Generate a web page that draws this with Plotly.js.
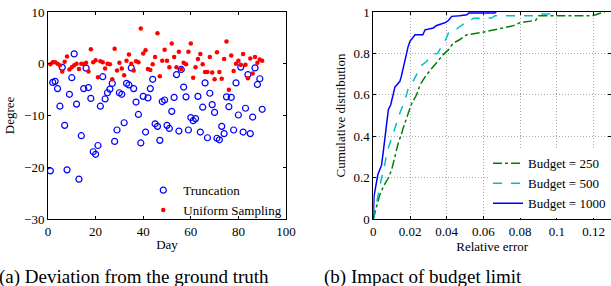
<!DOCTYPE html>
<html><head><meta charset="utf-8">
<script src="https://cdn.plot.ly/plotly-3.0.1.min.js"></script>
<style>html,body{margin:0;padding:0;overflow:hidden;background:#fff}#chart{width:611px;height:286px}</style>
</head><body><div id="chart"></div>
<script>
const days = [1,2,3,4,5,6,7,8,9,10,11,12,13,14,15,16,17,18,19,20,21,22,23,24,25,26,27,28,29,30,
  31,32,33,34,35,36,37,38,39,40,41,42,43,44,45,46,47,48,49,50,51,52,53,54,55,56,57,58,59,60,
  61,62,63,64,65,66,67,68,69,70,71,72,73,74,75,76,77,78,79,80,81,82,83,84,85,86,87,88,89,90];
const truncation = [-20.7,-3.6,-3.4,-4.8,-8.2,-0.7,-11.9,-20.5,-5.9,-2.7,
  1.9,-7.8,-22.3,-13.9,-4.8,-0.85,-4.6,-6.7,-17.0,-17.5,
  -15.8,-8.2,-2.5,-6.8,-5.6,-4.9,-3.8,-15.0,-12.8,-5.6,
  -5.9,-11.4,-3.8,-4.1,-0.8,-4.8,-7.4,-9.8,-15.3,-6.3,
  -13.2,-6.6,-4.8,-3.0,-11.6,-12.1,-14.8,-7.3,-7.0,-11.9,
  -12.5,-9.2,-6.5,-2.1,-13.0,-1.1,-4.5,-6.4,-12.8,-10.4,
  -11.0,-10.6,-6.3,-13.2,-8.4,-3.7,-14.3,-5.7,-7.9,-9.4,
  -14.4,-14.7,-12.1,-13.5,-6.4,-8.3,-6.5,-12.8,-3.7,-9.9,
  -0.65,-13.2,-8.6,-2.1,-13.5,-10.3,-0.8,-4.0,-2.9,-8.8];
const uniformSampling = [-0.1,0.3,0.3,0.0,-0.3,-1.5,0.4,1.4,-1.1,-0.7,
  -0.3,0.0,-1.0,0.0,-0.1,0.2,-1.5,2.8,0.3,0.7,
  -2.6,0.5,0.3,-0.9,0.0,-0.1,-3.0,2.9,-1.3,0.2,
  -0.9,-2.2,0.6,1.8,0.0,-1.3,0.5,0.3,6.8,2.0,
  2.6,-1.0,-1.2,-0.1,1.3,5.9,-2.4,0.6,2.7,0.6,
  -0.7,3.9,1.3,-0.7,2.3,-1.0,0.2,-0.1,2.3,3.9,
  -2.7,-0.7,0.9,1.9,-0.1,-1.6,-1.6,1.3,-1.7,-3.0,
  2.2,-1.6,-2.9,0.9,4.3,-5.0,1.6,-1.4,0.0,0.6,
  -0.2,1.9,-0.2,-2.8,1.0,-1.9,1.3,0.2,0.8,0.6];

const err250 = [0,0.0018,0.0033,0.0055,0.0082,0.01,0.0118,0.0136,0.0155,0.0163,
  0.0191,0.021,0.0236,0.0255,0.029,0.0327,0.0354,0.0381,0.041,0.0436,
  0.047,0.051,0.0585,0.065,0.069,0.0765,0.0795,0.0885,0.09,0.1193,0.1248,0.126];
const cdf250 = [0,0.061,0.11,0.158,0.198,0.238,0.30,0.367,0.415,0.44,
  0.512,0.56,0.60,0.649,0.697,0.737,0.761,0.794,0.818,0.85,
  0.866,0.89,0.9,0.914,0.92,0.934,0.947,0.96,0.982,0.982,0.995,1];
const err500 = [0,0.001,0.0018,0.0027,0.0036,0.0045,0.0064,0.0073,0.0091,0.0109,
  0.0125,0.0145,0.0173,0.0191,0.021,0.0236,0.0255,0.029,0.0318,0.035,
  0.0373,0.039,0.0409,0.0445,0.046,0.049,0.051,0.0536,0.0545,0.0645,
  0.0663,0.0891,0.09,0.0999,0.1005];
const cdf500 = [0,0.045,0.09,0.133,0.166,0.198,0.27,0.319,0.367,0.415,
  0.46,0.512,0.576,0.633,0.655,0.697,0.737,0.761,0.794,0.80,
  0.834,0.858,0.898,0.906,0.923,0.94,0.96,0.963,0.97,0.971,
  0.982,0.982,0.99,0.99,1];
const err1000 = [0,0.0004,0.0015,0.0025,0.0035,0.0045,0.0055,0.0064,0.0073,0.0082,
  0.0095,0.0109,0.0118,0.0129,0.0145,0.0153,0.0163,0.0174,0.0182,0.019,
  0.02,0.0215,0.0227,0.027,0.0282,0.0327,0.0345,0.0373,0.0395,0.041,
  0.0427,0.047,0.051,0.052,0.066,0.067];
const cdf1000 = [0,0.11,0.166,0.215,0.238,0.26,0.33,0.40,0.46,0.528,
  0.552,0.60,0.638,0.649,0.665,0.69,0.729,0.778,0.818,0.834,
  0.858,0.874,0.89,0.89,0.914,0.923,0.935,0.943,0.95,0.96,
  0.979,0.982,0.987,0.995,0.995,1];

const leftXTicks = [0,20,40,60,80,100];
const leftYTicks = [-30,-20,-10,0,10];
const rightXTicks = [0,0.02,0.04,0.06,0.08,0.1,0.12];
const rightXTickText = ['0','0.02','0.04','0.06','0.08','0.1','0.12'];
const rightYTicks = [0,0.2,0.4,0.6,0.8,1];
const rightYTickText = ['0','0.2','0.4','0.6','0.8','1'];

const FONT = '"Liberation Serif", "DejaVu Serif", serif';

const traces = [
  {x: days, y: truncation, name: 'Truncation', type: 'scatter', mode: 'markers',
   marker: {symbol: 'circle-open', size: 6, color: '#0000ff', line: {width: 1.2, color: '#0000ff'}},
   xaxis: 'x', yaxis: 'y', legend: 'legend'},
  {x: days, y: uniformSampling, name: 'Uniform Sampling', type: 'scatter', mode: 'markers',
   marker: {symbol: 'circle', size: 4.5, color: '#ff0000'},
   xaxis: 'x', yaxis: 'y', legend: 'legend'},
  {x: err250, y: cdf250, name: 'Budget = 250', type: 'scatter', mode: 'lines',
   line: {color: '#008000', dash: 'dashdot', width: 1.5},
   xaxis: 'x2', yaxis: 'y2', legend: 'legend2'},
  {x: err500, y: cdf500, name: 'Budget = 500', type: 'scatter', mode: 'lines',
   line: {color: '#00bfbf', dash: 'dash', width: 1.5},
   xaxis: 'x2', yaxis: 'y2', legend: 'legend2'},
  {x: err1000, y: cdf1000, name: 'Budget = 1000', type: 'scatter', mode: 'lines',
   line: {color: '#0000ff', width: 1.5},
   xaxis: 'x2', yaxis: 'y2', legend: 'legend2'}
];

const axBase = {
  showline: true, linecolor: '#000', linewidth: 1, mirror: 'ticks',
  ticks: 'inside', ticklen: 3, tickcolor: '#000', tickwidth: 1,
  zeroline: false, showgrid: false,
  tickfont: {family: FONT, size: 13, color: '#000'}
};
const titleFont = {family: FONT, size: 13, color: '#000'};

const layout = {
  width: 611, height: 286,
  margin: {l: 48, r: 0, t: 12, b: 67},
  paper_bgcolor: '#fff', plot_bgcolor: '#fff',
  font: {family: FONT, size: 13, color: '#000'},
  xaxis: Object.assign({}, axBase, {domain: [0, 0.4227], range: [0, 100], tickvals: leftXTicks,
    title: {text: 'Day', font: titleFont, standoff: 2}}),
  yaxis: Object.assign({}, axBase, {domain: [0, 1], range: [-30, 10], tickvals: leftYTicks,
    title: {text: 'Degree', font: titleFont, standoff: 6}}),
  xaxis2: Object.assign({}, axBase, {domain: [0.5778, 1], range: [0, 0.1295], anchor: 'y2',
    tickvals: rightXTicks, ticktext: rightXTickText,
    showgrid: true, gridcolor: '#aaaaaa', griddash: '1px,2px', gridwidth: 1,
    title: {text: 'Relative error', font: titleFont, standoff: 2}}),
  yaxis2: Object.assign({}, axBase, {domain: [0, 1], range: [0, 1], anchor: 'x2',
    tickvals: rightYTicks, ticktext: rightYTickText,
    showgrid: true, gridcolor: '#aaaaaa', griddash: '1px,2px', gridwidth: 1,
    title: {text: 'Cumulative distribution', font: titleFont, standoff: 4}}),
  legend: {x: 0.425, y: -0.03, xanchor: 'right', yanchor: 'bottom', bgcolor: 'rgba(0,0,0,0)',
    borderwidth: 0, itemwidth: 30, font: {family: FONT, size: 13, color: '#000'}},
  legend2: {x: 1, y: 0.003, xanchor: 'right', yanchor: 'bottom', bgcolor: '#fff',
    borderwidth: 0, itemwidth: 30, font: {family: FONT, size: 13, color: '#000'}},
  showlegend: true,
  annotations: [
    {text: '(a) Deviation from the ground truth', xref: 'paper', yref: 'paper', x: 0.1535, y: -0.282,
     xanchor: 'center', yanchor: 'middle', showarrow: false, font: {family: FONT, size: 19, color: '#000'}},
    {text: '(b) Impact of budget limit', xref: 'paper', yref: 'paper', x: 0.6657, y: -0.282,
     xanchor: 'center', yanchor: 'middle', showarrow: false, font: {family: FONT, size: 19, color: '#000'}}
  ]
};

Plotly.newPlot('chart', traces, layout, {displayModeBar: false, staticPlot: true});
</script>
</body></html>
